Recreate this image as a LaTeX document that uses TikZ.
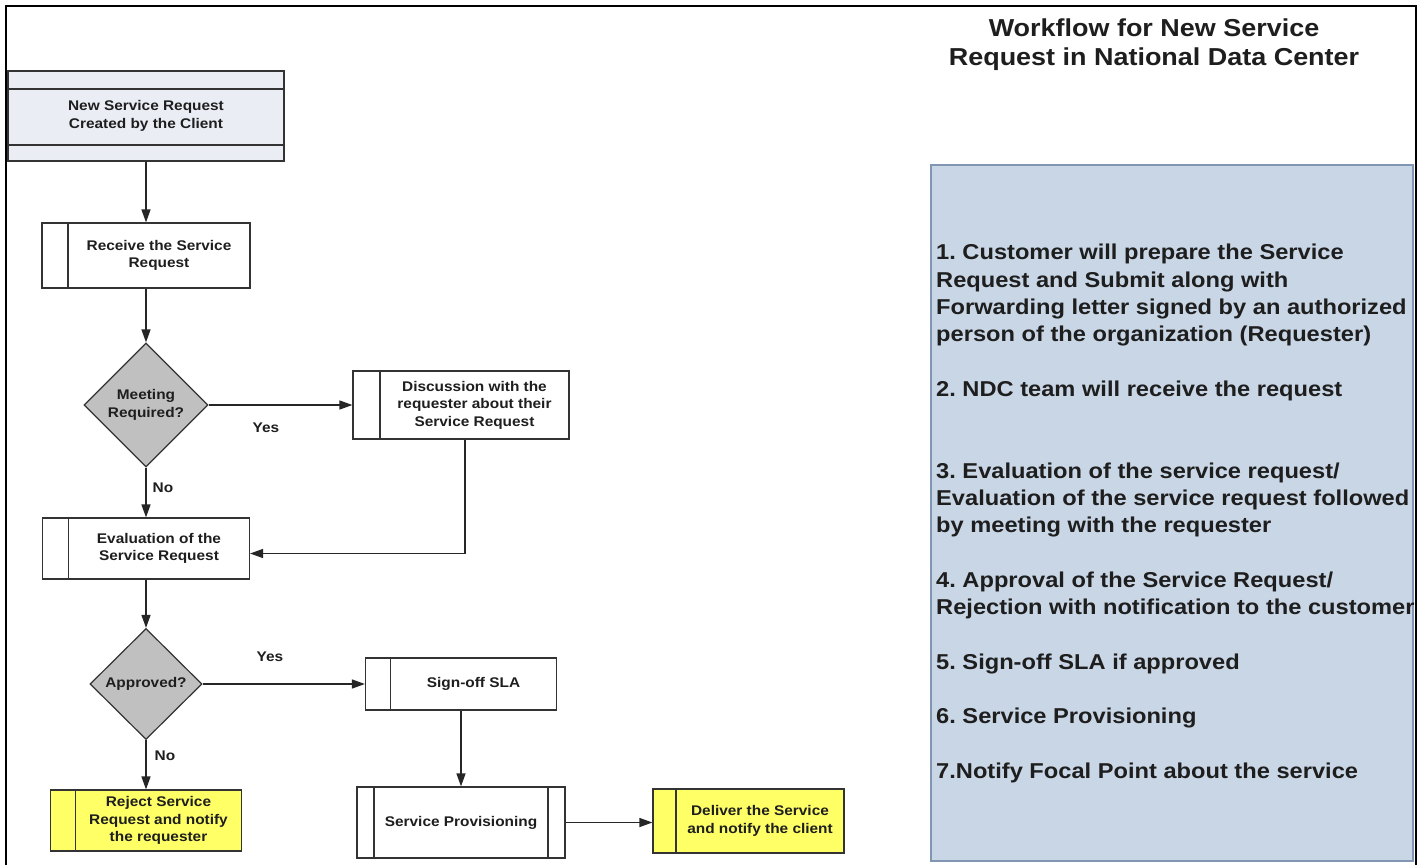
\documentclass[tikz,border=0pt]{standalone}
\usepackage{fontspec}
\setmainfont{Liberation Sans}[FakeStretch=1.1]
\usetikzlibrary{shapes.geometric,arrows.meta}
\definecolor{linec}{HTML}{333333}
\definecolor{hdrfill}{HTML}{EAEEF4}
\definecolor{dfill}{HTML}{C0C0C0}
\definecolor{yfill}{HTML}{FFFF66}
\definecolor{pfill}{HTML}{C9D6E6}
\definecolor{pdraw}{HTML}{8096B3}
\definecolor{txt}{HTML}{1E1E1E}
\newcommand\boxtxt[2]{\hspace*{#1}\begin{tabular}{@{}c@{}}#2\end{tabular}}
\frenchspacing
\begin{document}
\begin{tikzpicture}[x=1pt,y=-1pt,
  boxfont/.style={font=\fontsize{14}{17.5}\selectfont\bfseries, text=txt},
  box/.style={boxfont, draw=linec, line width=1.2pt, fill=white, inner sep=0pt},
  lbar/.style={path picture={\draw[linec,line width=1.2pt] ([xshift=#1]path picture bounding box.north west) -- ([xshift=#1]path picture bounding box.south west);}},
  bothbars/.style={path picture={\draw[linec,line width=1.2pt] ([xshift=#1]path picture bounding box.north west) -- ([xshift=#1]path picture bounding box.south west);
      \draw[linec,line width=1.2pt] ([xshift=-#1]path picture bounding box.north east) -- ([xshift=-#1]path picture bounding box.south east);}},
  hbars/.style={path picture={\draw[linec,line width=1.2pt] ([yshift=-18pt]path picture bounding box.north west) -- ([yshift=-18pt]path picture bounding box.north east);
      \draw[linec,line width=1.2pt] ([yshift=16pt]path picture bounding box.south west) -- ([yshift=16pt]path picture bounding box.south east);}},
  dec/.style={boxfont, diamond, aspect=1, draw=linec, line width=1.2pt, fill=dfill, inner sep=0pt, align=center},
  arr/.style={draw=black!85, line width=1.4pt, -{Triangle[length=13pt,width=9pt]}},
  lbl/.style={boxfont, inner sep=0pt},
]
\useasboundingbox (0,0) rectangle (1423,864);
\fill[white] (0,0) rectangle (1423,864);
% frame
\draw[line width=2.5pt, black] (6,866) -- (6,6) -- (1416,6) -- (1416,866);
% panel
\node[draw=pdraw, fill=pfill, line width=2pt, minimum width=482pt, minimum height=696pt, inner sep=0pt] (panel) at (1172,513) {};
\node[anchor=north, inner sep=0pt, align=center, font=\fontsize{24.5}{29}\selectfont\bfseries, text=txt] (title) at (1154,19) {Workflow for New Service\\Request in National Data Center};
\node[anchor=north west, inner sep=0pt, align=left, font=\fontsize{21.5}{27.3}\selectfont\bfseries, text=txt] (steps) at (936,244) {1. Customer will prepare the Service\\
Request and Submit along with\\
Forwarding letter signed by an authorized\\
person of the organization (Requester)\\[27.3pt]
2. NDC team will receive the request\\[54.6pt]
3. Evaluation of the service request/\\
Evaluation of the service request followed\\
by meeting with the requester\\[27.3pt]
4. Approval of the Service Request/\\
Rejection with notification to the customer\\[27.3pt]
5. Sign-off SLA if approved\\[27.3pt]
6. Service Provisioning\\[27.3pt]
7.Notify Focal Point about the service};
% flowchart
\node[box, fill=hdrfill, hbars, minimum width=276pt, minimum height=90pt] (n1) at (146,116) {\boxtxt{0pt}{New Service Request\\Created by the Client}};
\node[box, lbar=26pt, minimum width=208pt, minimum height=65pt] (recv) at (146,255.5) {\boxtxt{26pt}{Receive the Service\\Request}};
\node[dec, minimum width=124pt, minimum height=124pt] (meet) at (146,405) {Meeting\\Required?};
\node[box, lbar=27pt, minimum width=216pt, minimum height=68pt] (disc) at (461,405) {\boxtxt{27pt}{Discussion with the\\requester about their\\Service Request}};
\node[box, lbar=26pt, minimum width=207pt, minimum height=61pt] (eval) at (146,548.5) {\boxtxt{26pt}{Evaluation of the\\Service Request}};
\node[dec, minimum width=112pt, minimum height=111pt] (appr) at (146,684) {Approved?};
\node[box, lbar=25pt, minimum width=191pt, minimum height=52pt] (sla) at (461,684) {\boxtxt{25pt}{Sign-off SLA}};
\node[box, fill=yfill, lbar=25pt, minimum width=191pt, minimum height=61pt] (rej) at (146,820.5) {\boxtxt{25pt}{Reject Service\\Request and notify\\the requester}};
\node[box, bothbars=17pt, minimum width=208pt, minimum height=71pt] (prov) at (461,822.5) {Service Provisioning};
\node[box, fill=yfill, lbar=23pt, minimum width=191pt, minimum height=64pt] (dlv) at (748.5,821) {\boxtxt{23pt}{Deliver the Service\\and notify the client}};
% connectors
\draw[arr] (n1) -- (recv);
\draw[arr] (recv) -- (meet);
\draw[arr] (meet) -- (disc);
\draw[arr] (meet) -- (eval);
\draw[arr] ([xshift=4pt]disc.south) |- ([yshift=-5pt]eval.east);
\draw[arr] (eval) -- (appr);
\draw[arr] (appr) -- (sla);
\draw[arr] (appr) -- (rej);
\draw[arr] (sla) -- (prov);
\draw[arr] (prov.east) -- (prov.east -| dlv.west);
% labels
\node[lbl] (yes1) at (266,428) {Yes};
\node[lbl] (no1) at (163,488) {No};
\node[lbl] (yes2) at (270,657) {Yes};
\node[lbl] (no2) at (165,756) {No};
\end{tikzpicture}
\end{document}
